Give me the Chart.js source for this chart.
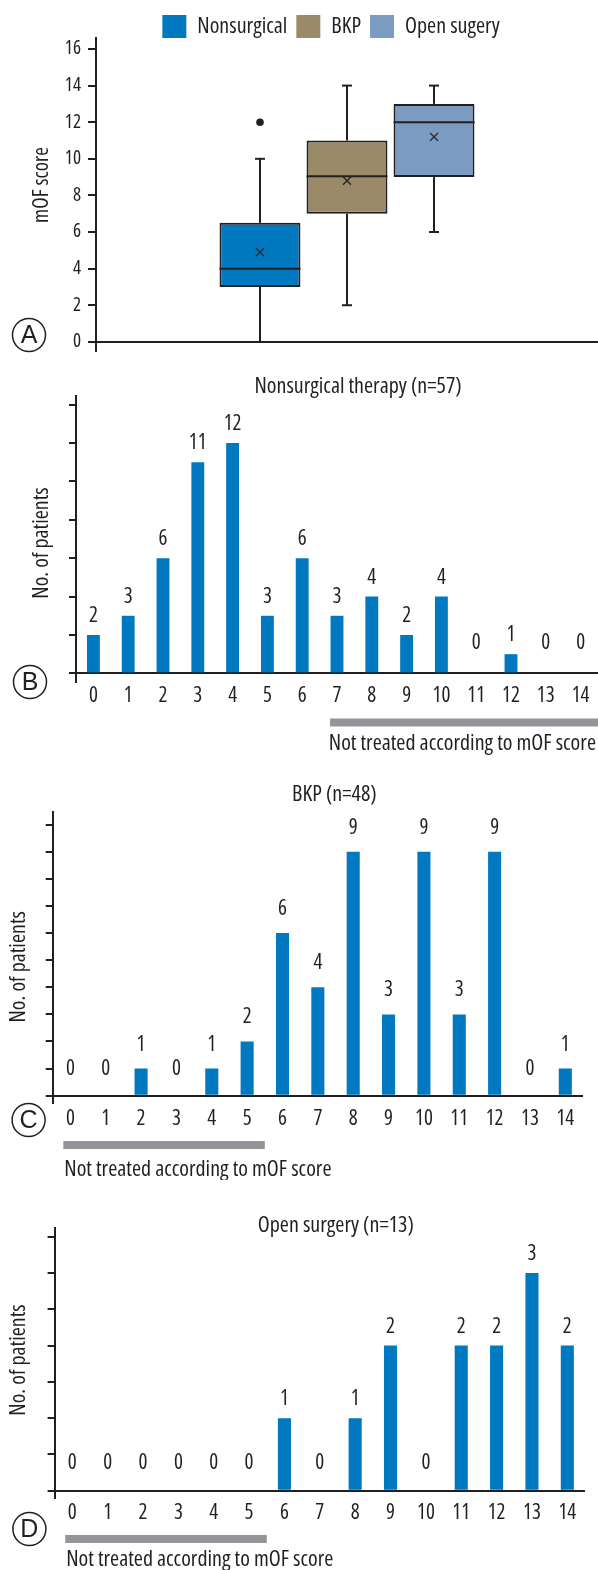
<!DOCTYPE html>
<html>
<head>
<meta charset="utf-8">
<script src="https://cdn.jsdelivr.net/npm/chart.js@4.4.1/dist/chart.umd.min.js"></script>
<style>
  body { margin: 0; background: #fff; }
  #wrap { position: relative; width: 598px; height: 1570px; }
  .panel { position: absolute; left: 0; }
</style>
</head>
<body>
<div id="wrap">
  <canvas class="panel" id="chartA" width="598" height="360" style="top:0"></canvas>
  <canvas class="panel" id="chartB" width="598" height="400" style="top:360px"></canvas>
  <canvas class="panel" id="chartC" width="598" height="420" style="top:760px"></canvas>
  <canvas class="panel" id="chartD" width="598" height="390" style="top:1180px"></canvas>
</div>
<script>
// panel A: mOF score by treatment (box plot)
const groups = ['Nonsurgical', 'BKP', 'Open sugery'];
const boxMin = [0, 2, 6];
const boxQ1 = [3, 7, 9];
const boxMedian = [4, 9.05, 12];
const boxQ3 = [6.5, 11, 13];
const boxMax = [10, 14, 14];
const boxMean = [4.9, 8.8, 11.2];
const boxOutliers = [[12], [], []];
const scoreTicks = [0, 2, 4, 6, 8, 10, 12, 14, 16];

// panels B-D: number of patients per mOF score
const mofScores = ['0', '1', '2', '3', '4', '5', '6', '7', '8', '9', '10', '11', '12', '13', '14'];
const nonsurgicalCounts = [2, 3, 6, 11, 12, 3, 6, 3, 4, 2, 4, 0, 1, 0, 0];
const bkpCounts = [0, 0, 1, 0, 1, 2, 6, 4, 9, 3, 9, 3, 9, 0, 1];
const openCounts = [0, 0, 0, 0, 0, 0, 1, 0, 1, 2, 0, 2, 2, 3, 2];
const countTicksB = [0, 2, 4, 6, 8, 10, 12, 14];
const countTicksC = [0, 1, 2, 3, 4, 5, 6, 7, 8, 9, 10];
const countTicksD = [0, 0.5, 1, 1.5, 2, 2.5, 3, 3.5];
// score ranges not treated according to the mOF score
const notTreatedNonsurgical = [7, 14];
const notTreatedBkp = [0, 5];
const notTreatedOpen = [0, 5];

const ink = '#231f20';
const barBlue = '#0079c1';
const groupColors = ['#0079c1', '#9a8a68', '#7b9bc1'];
const FAMILY = "'Open Sans', 'DejaVu Sans Condensed', sans-serif";
const NARROW = 'condensed'; // used as the weight slot so the font string asks for the condensed width

Chart.defaults.font.family = FAMILY;
Chart.defaults.font.weight = NARROW;
Chart.defaults.color = ink;

const f = (size, extra) => Object.assign({ family: FAMILY, size: size, weight: NARROW }, extra || {});

const boxWhiskers = {
  id: 'boxWhiskers',
  afterDatasetsDraw(chart) {
    const ctx = chart.ctx;
    const y = chart.scales.y;
    ctx.save();
    ctx.strokeStyle = ink;
    ctx.fillStyle = ink;
    chart.data.datasets.forEach((ds, i) => {
      const bar = chart.getDatasetMeta(i).data[0];
      const x = bar.x, half = bar.width / 2;
      const line = (x0, y0, x1, y1) => { ctx.beginPath(); ctx.moveTo(x0, y0); ctx.lineTo(x1, y1); ctx.stroke(); };
      ctx.lineWidth = 2;
      line(x, y.getPixelForValue(boxQ1[i]), x, y.getPixelForValue(boxMin[i]));
      line(x, y.getPixelForValue(boxQ3[i]), x, y.getPixelForValue(boxMax[i]));
      line(x - 5, y.getPixelForValue(boxMax[i]), x + 5, y.getPixelForValue(boxMax[i]));
      if (boxMin[i] > 0) line(x - 5, y.getPixelForValue(boxMin[i]), x + 5, y.getPixelForValue(boxMin[i]));
      line(x - half, y.getPixelForValue(boxMedian[i]), x + half, y.getPixelForValue(boxMedian[i]));
      const m = y.getPixelForValue(boxMean[i]);
      ctx.lineWidth = 1.3;
      line(x - 4, m - 4, x + 4, m + 4);
      line(x - 4, m + 4, x + 4, m - 4);
      boxOutliers[i].forEach(v => {
        ctx.beginPath();
        ctx.arc(x, y.getPixelForValue(v), 3.8, 0, Math.PI * 2);
        ctx.fill();
      });
    });
    ctx.restore();
  }
};

const valueLabels = {
  id: 'valueLabels',
  afterDatasetsDraw(chart, args, opts) {
    const ctx = chart.ctx;
    const values = chart.data.datasets[0].data;
    ctx.save();
    ctx.font = NARROW + ' 21px ' + FAMILY;
    ctx.fillStyle = ink;
    ctx.textAlign = 'center';
    ctx.textBaseline = 'middle';
    chart.getDatasetMeta(0).data.forEach((bar, i) => {
      const gap = values[i] === 0 ? opts.zeroGap : opts.gap;
      ctx.fillText(String(values[i]), bar.x, bar.y - gap);
    });
    ctx.restore();
  }
};

// nudges the title / legend / y-axis title after layout
const blockShift = {
  id: 'blockShift',
  afterLayout(chart, args, o) {
    if (o.title && chart.titleBlock) { chart.titleBlock.left += o.title; chart.titleBlock.right += o.title; }
    if (o.legend && chart.legend) { chart.legend.left += o.legend; chart.legend.right += o.legend; }
    const s = chart.scales.y;
    if (o.yTitle && s && !s._titleShifted) {
      s._titleShifted = true;
      const drawTitle = s.drawTitle.bind(s);
      s.drawTitle = () => {
        s.ctx.save();
        s.ctx.translate(0, o.yTitle);
        drawTitle();
        s.ctx.restore();
      };
    }
  }
};

const panelMarks = {
  id: 'panelMarks',
  afterDraw(chart, args, o) {
    const {ctx, chartArea} = chart;
    ctx.save();
    ctx.strokeStyle = ink;
    ctx.fillStyle = ink;
    ctx.lineWidth = 1.5;
    ctx.beginPath();
    ctx.arc(o.cx, o.cy, 16.5, 0, Math.PI * 2);
    ctx.stroke();
    ctx.font = "25px 'Liberation Sans', Arial, sans-serif";
    ctx.textAlign = 'center';
    ctx.textBaseline = 'middle';
    ctx.fillText(o.letter, o.cx, o.cy + 1);
    if (o.range) {
      const xs = chart.scales.x;
      const x0 = xs.getPixelForValue(o.range[0] - 0.2);
      const x1 = xs.getPixelForValue(o.range[1] + 0.5);
      ctx.fillStyle = '#939598';
      ctx.fillRect(x0, chartArea.bottom + o.barDy - 4, x1 - x0, 8);
      ctx.fillStyle = ink;
      ctx.font = NARROW + ' 22px ' + FAMILY;
      ctx.textAlign = o.align;
      ctx.fillText('Not treated according to mOF score', o.align === 'right' ? x1 - 2 : x0 + 1, chartArea.bottom + o.textDy);
    }
    ctx.restore();
  }
};

const zeroOnly = c => (c.tick && c.tick.value === 0 ? ink : 'rgba(0,0,0,0)');

new Chart(document.getElementById('chartA'), {
  type: 'bar',
  data: {
    labels: ['mOF score'],
    datasets: groups.map((g, i) => ({
      label: g,
      data: [[boxQ1[i], boxQ3[i]]],
      backgroundColor: groupColors[i],
      borderColor: ink,
      borderWidth: 2,
      borderSkipped: false,
      categoryPercentage: 0.52,
      barPercentage: 0.93
    }))
  },
  options: {
    responsive: false,
    animation: false,
    devicePixelRatio: 1,
    layout: { padding: { top: 6, bottom: 9, left: 0, right: 0 } },
    plugins: {
      legend: {
        fullSize: false,
        maxHeight: 32,
        labels: {
          boxWidth: 24,
          boxHeight: 23,
          padding: 9,
          color: ink,
          font: f(22),
          generateLabels: chart => Chart.defaults.plugins.legend.labels.generateLabels(chart)
            .map(l => Object.assign(l, { lineWidth: 0, strokeStyle: 'rgba(0,0,0,0)' }))
        }
      },
      tooltip: { enabled: false },
      blockShift: { legend: -16, yTitle: -9.5 },
      panelMarks: { letter: 'A', cx: 29, cy: 335 }
    },
    scales: {
      x: { display: false },
      y: {
        min: -0.5,
        max: 16.6,
        afterBuildTicks: s => { s.ticks = scoreTicks.map(v => ({ value: v })); },
        afterFit: s => { s.width = 96; s.paddingTop = 0; s.paddingBottom = 0; },
        ticks: { color: ink, padding: 7, font: f(19) },
        grid: { color: zeroOnly, tickColor: ink, tickLength: 8, lineWidth: 2 },
        border: { color: ink, width: 2 },
        title: {
          display: true,
          text: 'mOF score',
          color: ink,
          font: f(21),
          padding: { top: 29.4, bottom: 0 }
        }
      }
    }
  },
  plugins: [boxWhiskers, blockShift, panelMarks]
});

function histogram(id, p) {
  return new Chart(document.getElementById(id), {
    type: 'bar',
    data: {
      labels: mofScores,
      datasets: [{
        label: p.title,
        data: p.counts,
        backgroundColor: barBlue,
        categoryPercentage: 1,
        barPercentage: 0.37
      }]
    },
    options: {
      responsive: false,
      animation: false,
      devicePixelRatio: 1,
      layout: { padding: { top: 0, bottom: 0, left: 0, right: p.padRight } },
      plugins: {
        legend: { display: false },
        tooltip: { enabled: false },
        title: {
          display: true,
          text: p.title,
          color: ink,
          fullSize: false,
          font: f(22, { lineHeight: 1 }),
          padding: p.titlePad
        },
        valueLabels: { gap: p.gap, zeroGap: p.zeroGap },
        blockShift: { title: p.titleShift, yTitle: p.yTitleShift },
        panelMarks: p.marks
      },
      scales: {
        x: {
          grid: { display: false, drawTicks: false },
          border: { display: false },
          ticks: { color: ink, padding: p.xPad, font: f(21) },
          afterFit: s => { s.height = p.xHeight; s.paddingLeft = 0; s.paddingRight = 0; }
        },
        y: {
          min: p.yMin,
          max: p.yMax,
          afterBuildTicks: s => { s.ticks = p.ticks.map(v => ({ value: v })); },
          afterFit: s => { s.width = p.yWidth; s.paddingTop = 0; s.paddingBottom = 0; },
          ticks: { display: false },
          grid: { color: zeroOnly, tickColor: ink, tickLength: 7, lineWidth: 2 },
          border: { color: ink, width: 2 },
          title: {
            display: true,
            text: 'No. of patients',
            color: ink,
            font: f(22),
            padding: { top: p.yTitlePad, bottom: 0 }
          }
        }
      }
    },
    plugins: [valueLabels, blockShift, panelMarks]
  });
}

histogram('chartB', {
  title: 'Nonsurgical therapy (n=57)',
  counts: nonsurgicalCounts,
  ticks: countTicksB,
  yMin: -0.45, yMax: 14.45,
  yWidth: 76, xHeight: 78, padRight: 0,
  titlePad: { top: 16, bottom: -2 }, titleShift: 21,
  xPad: 1.4, yTitlePad: 28.8, yTitleShift: 4,
  gap: 19, zeroGap: 30,
  marks: { letter: 'B', cx: 30, cy: 322, range: notTreatedNonsurgical, barDy: 40.5, textDy: 61.5, align: 'right' }
});

histogram('chartC', {
  title: 'BKP (n=48)',
  counts: bkpCounts,
  ticks: countTicksC,
  yMin: -0.27, yMax: 10.48,
  yWidth: 52.7, xHeight: 77, padRight: 15,
  titlePad: { top: 24, bottom: 5.7 }, titleShift: 16.5,
  xPad: 3.4, yTitlePad: 5.8, yTitleShift: 9.5,
  gap: 24, zeroGap: 27,
  marks: { letter: 'C', cx: 28.6, cy: 360, range: notTreatedBkp, barDy: 42, textDy: 67, align: 'left' }
});

histogram('chartD', {
  title: 'Open surgery (n=13)',
  counts: openCounts,
  ticks: countTicksD,
  yMin: -0.1, yMax: 3.62,
  yWidth: 54.6, xHeight: 72, padRight: 13,
  titlePad: { top: 35, bottom: -9 }, titleShift: 16,
  xPad: 2.7, yTitlePad: 5.8, yTitleShift: -3,
  gap: 19, zeroGap: 28,
  marks: { letter: 'D', cx: 29.4, cy: 349, range: notTreatedOpen, barDy: 41, textDy: 62, align: 'left' }
});
</script>
</body>
</html>
